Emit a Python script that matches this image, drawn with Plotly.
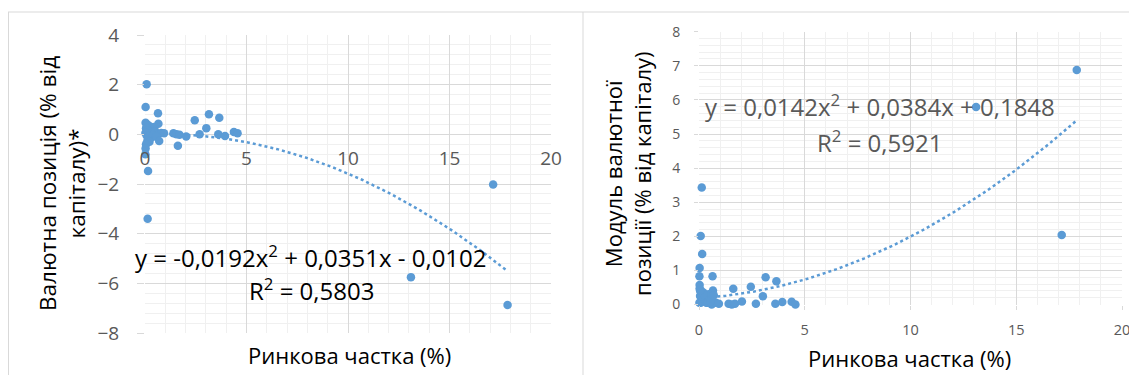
import numpy as np
import plotly.graph_objects as go

# ---------------- data ----------------
market_share = [0.08, 0.03, 0.64, 0.66, 0.03, 0.10, 0.20, 0.30, 0.45, 0.05,
                0.15, 0.25, 0.35, 0.50, 0.60, 0.80, 0.02, 0.08, 0.18, 0.28,
                0.40, 0.55, 0.12, 0.22, 0.05, 0.70, 0.94, 1.40, 1.55, 1.70,
                1.62, 2.03, 2.45, 2.69, 3.02, 3.15, 3.66, 3.61, 3.94, 4.38,
                4.56, 0.03, 0.02, 0.15, 0.13, 17.15, 13.10, 17.86]

fx_position = [2.02, 1.10, 0.85, 0.43, 0.47, 0.40, 0.35, 0.25, 0.30, 0.25,
               0.15, 0.10, 0.05, 0.12, 0.00, 0.05, 0.05, -0.05, -0.10, -0.15,
               -0.05, -0.10, -0.25, -0.30, -0.40, -0.27, 0.04, 0.04, 0.00, -0.02,
               -0.46, -0.09, 0.57, 0.00, 0.25, 0.81, 0.67, 0.00, -0.07, 0.09,
               0.04, -0.57, -0.80, -1.48, -3.40, -2.02, -5.75, -6.87]

fx_position_abs = [2.01, 1.07, 0.83, 0.41, 0.47, 0.40, 0.35, 0.25, 0.30, 0.25,
                   0.15, 0.10, 0.05, 0.12, 0.00, 0.05, 0.05, 0.05, 0.10, 0.15,
                   0.05, 0.10, 0.25, 0.30, 0.40, 0.27, 0.02, 0.02, 0.00, 0.02,
                   0.46, 0.09, 0.52, 0.02, 0.24, 0.80, 0.68, 0.02, 0.07, 0.08,
                   0.00, 0.57, 0.83, 1.48, 3.43, 2.04, 5.79, 6.88]

# trendline coefficients as printed on the chart (a, b, c) for a*x^2 + b*x + c
trend_left = [-0.0192, 0.0351, -0.0102]
trend_right = [0.0142, 0.0384, 0.1848]

eq_left = "y = -0,0192x<sup>2</sup> + 0,0351x - 0,0102"
r2_left = "R<sup>2</sup> = 0,5803"
eq_right = "y = 0,0142x<sup>2</sup> + 0,0384x + 0,1848"
r2_right = "R<sup>2</sup> = 0,5921"

title_x = "Ринкова частка (%)"
title_y_left = "Валютна позиція (% від<br>капіталу)*"
title_y_right = "Модуль валютної<br>позиції (% від капіталу)"

# ---------------- layout helpers ----------------
# the page body adds an 8px margin, so the figure is shrunk and shifted by it
OFF = 8
W, H = 1137 - OFF, 389 - OFF - 14
BLUE = "#5b9bd5"
GRID = "#d9d9d9"
MINOR = "#f0f0f0"
TICK = "#595959"
FONT = "Open Sans"

def px(x):
    return (x - OFF) / W

def py(y):
    return 1 - (y - OFF) / H

left_dom_x = [px(145), px(551)]
left_dom_y = [py(333), py(35)]
right_dom_x = [px(699), px(1122)]
right_dom_y = [py(304.5), py(31.7)]

ymin_l, ymax_l = -8, 4
zero_pos_left = left_dom_y[0] + (0 - ymin_l) / (ymax_l - ymin_l) * (left_dom_y[1] - left_dom_y[0])

def trend(coefs, xs):
    xs = np.linspace(min(xs), max(xs), 200)
    return xs, np.polyval(coefs, xs)

fig = go.Figure()

tx, ty = trend(trend_left, market_share)
fig.add_trace(go.Scatter(x=tx, y=ty, mode="lines", xaxis="x", yaxis="y",
                         line=dict(color=BLUE, width=2.5, dash="3px,3px"),
                         hoverinfo="skip", showlegend=False))
fig.add_trace(go.Scatter(x=market_share, y=fx_position, mode="markers",
                         xaxis="x", yaxis="y", cliponaxis=False,
                         marker=dict(color=BLUE, size=8.5), showlegend=False))

tx2, ty2 = trend(trend_right, market_share)
fig.add_trace(go.Scatter(x=tx2, y=ty2, mode="lines", xaxis="x2", yaxis="y2",
                         line=dict(color=BLUE, width=2.5, dash="3px,3px"),
                         hoverinfo="skip", showlegend=False))
fig.add_trace(go.Scatter(x=market_share, y=fx_position_abs, mode="markers",
                         xaxis="x2", yaxis="y2", cliponaxis=False,
                         marker=dict(color=BLUE, size=8.5), showlegend=False))

common_grid = dict(showgrid=True, gridcolor=GRID, gridwidth=1, zeroline=False,
                   showline=False, fixedrange=True, automargin=False,
                   ticklabeloverflow="allow")

fig.update_layout(
    template="none",
    width=W, height=H,
    margin=dict(l=0, r=0, t=0, b=0, autoexpand=False),
    paper_bgcolor="white", plot_bgcolor="white",
    font=dict(family=FONT, color="black"),
    xaxis=dict(domain=left_dom_x, range=[0, 20], dtick=5, anchor="free",
               position=zero_pos_left, ticks="", ticklabelstandoff=11,
               tickfont=dict(size=19, color=TICK),
               minor=dict(dtick=1, showgrid=True, gridcolor=MINOR),
               **common_grid),
    yaxis=dict(domain=left_dom_y, range=[ymin_l, ymax_l], dtick=2, anchor="x",
               ticks="outside", ticklen=7, tickcolor=GRID, ticklabelstandoff=14,
               tickfont=dict(size=19, color=TICK),
               minor=dict(dtick=0.4, showgrid=True, gridcolor=MINOR),
               **common_grid),
    xaxis2=dict(domain=right_dom_x, range=[0, 20], dtick=5, anchor="y2",
                ticks="outside", ticklen=4, tickcolor=GRID, ticklabelstandoff=8,
                tickfont=dict(size=14.5, color=TICK),
                minor=dict(dtick=1, showgrid=True, gridcolor=MINOR),
                **common_grid),
    yaxis2=dict(domain=right_dom_y, range=[0, 8], dtick=1, anchor="x2",
                ticks="outside", ticklen=4, tickcolor=GRID, ticklabelstandoff=11,
                tickfont=dict(size=14, color=TICK),
                minor=dict(dtick=0.2, showgrid=True, gridcolor=MINOR),
                **common_grid),
)

# frame lines of the two chart boxes
fig.add_shape(type="line", xref="paper", yref="paper", x0=px(8), x1=1.0,
              y0=py(12), y1=py(12), line=dict(color=GRID, width=1))
fig.add_shape(type="line", xref="paper", yref="paper", x0=px(8.5), x1=px(8.5),
              y0=0, y1=py(12), line=dict(color=GRID, width=1))
fig.add_shape(type="line", xref="paper", yref="paper", x0=px(583), x1=px(583),
              y0=0, y1=py(12), line=dict(color=GRID, width=1))

def note(text, x, y, size, color="black", angle=0):
    fig.add_annotation(text=text, x=px(x), y=py(y), xref="paper", yref="paper",
                       xanchor="center", yanchor="middle", showarrow=False,
                       textangle=angle, font=dict(size=size, color=color, family=FONT))

note(eq_left, 311, 256, 24)
note(r2_left, 311, 289, 24)
note(eq_right, 880, 106, 24, TICK)
note(r2_right, 880, 141, 24, TICK)

note(title_x, 349, 355, 22)
note(title_x, 909, 358, 22)
note(title_y_left, 62, 184, 22.5, angle=-90)
note(title_y_right, 627, 174, 22, angle=-90)

fig.write_html("out.html")
